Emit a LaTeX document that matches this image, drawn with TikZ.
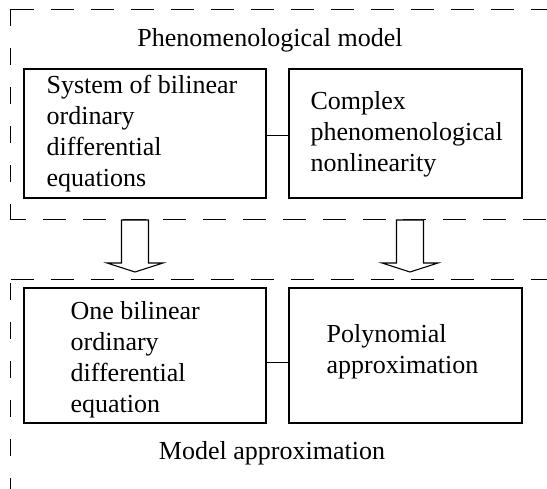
\documentclass[tikz,border=0pt]{standalone}
\usepackage{fontspec}
\setmainfont{Liberation Serif}
\begin{document}
\begin{tikzpicture}[x=1pt,y=-1pt,
  every node/.style={font=\fontsize{26}{31}\selectfont},
  box/.style={draw, line width=1.1pt, inner sep=0pt},
  txt/.style={align=left, anchor=west, inner sep=0pt},
  frameH/.style={line width=1pt, dash pattern=on 23pt off 17pt},
  frameV/.style={line width=1pt, dash pattern=on 17pt off 22pt},
  link/.style={line width=1pt},
  bigarrow/.style={draw, line width=1.1pt, fill=white, line join=miter}]
\useasboundingbox (0,0) rectangle (547,489);
% upper frame
\coordinate (f1tl) at (10.5,9.5);
\coordinate (f1tr) at (547,9.5);
\coordinate (f1bl) at (10.5,220);
\coordinate (f1br) at (547,220);
\draw[frameH] (f1tl) -- (f1tr);
\draw[frameV] (f1tl) -- (f1bl);
\draw[frameH, dash phase=8pt] (f1bl) -- (f1br);
% lower frame
\coordinate (f2tl) at (10.5,280);
\coordinate (f2tr) at (547,280);
\coordinate (f2bl) at (10.5,489);
\draw[frameH] (f2tl) -- (f2tr);
\draw[frameV] ([yshift=-3pt]f2tl) -- (f2bl);
% titles
\node[anchor=base, inner sep=0pt] (t1) at (270,47) {Phenomenological model};
\node[anchor=base, inner sep=0pt] (t2) at (272,460) {Model approximation};
% boxes
\node[box, minimum width=242pt, minimum height=129pt] (a) at (145,133.5) {};
\node[box, minimum width=233pt, minimum height=129pt] (b) at (405.5,133.5) {};
\node[box, minimum width=242pt, minimum height=135pt] (c) at (145,355.5) {};
\node[box, minimum width=233pt, minimum height=135pt] (d) at (405.5,355.5) {};
\node[txt] (at) at ([xshift=23pt]a.west) {System of bilinear\\ordinary\\differential\\equations};
\node[txt] (bt) at ([xshift=22pt,yshift=-1pt]b.west) {Complex\\phenomenological\\nonlinearity};
\node[txt] (ct) at ([xshift=47pt,yshift=-4.5pt]c.west) {One bilinear\\ordinary\\differential\\equation};
\node[txt] (dt) at ([xshift=38pt,yshift=4pt]d.west) {Polynomial\\approximation};
% connectors
\draw[link] ([yshift=-2.5pt]a.east) -- ([yshift=-2.5pt]b.west);
\draw[link] ([yshift=-7.5pt]c.east) -- ([yshift=-7.5pt]d.west);
% block arrows
\coordinate (p1) at (135,220);
\coordinate (p2) at (410,220);
\foreach \p in {p1,p2}{
  \draw[bigarrow] ([xshift=-13.5pt]\p) -- ([xshift=13.5pt]\p) -- ([xshift=13.5pt,yshift=-43pt]\p)
    -- ([xshift=28pt,yshift=-43pt]\p) -- ([yshift=-52pt]\p) -- ([xshift=-28pt,yshift=-43pt]\p)
    -- ([xshift=-13.5pt,yshift=-43pt]\p) -- cycle;
}
\end{tikzpicture}
\end{document}
